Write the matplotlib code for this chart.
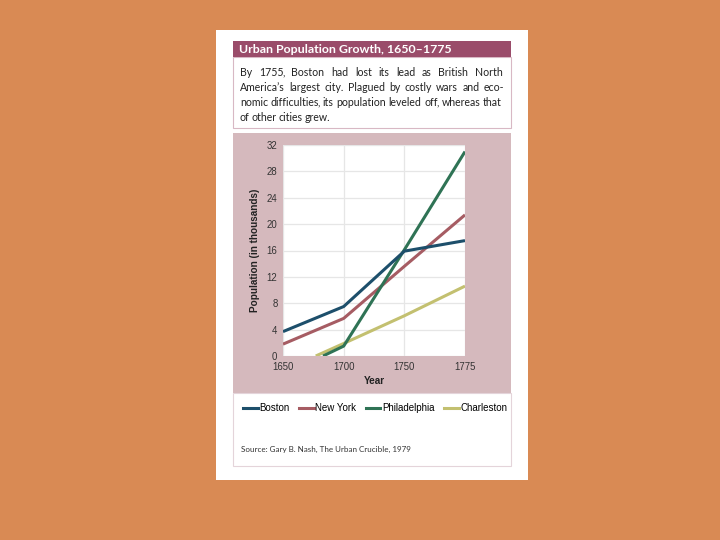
import numpy as np
import matplotlib
matplotlib.use("Agg")
import matplotlib.pyplot as plt
from matplotlib.patches import Rectangle
from matplotlib.lines import Line2D

# data (population in thousands)
tick_years = [1650, 1700, 1750, 1775]
boston_years = [1650, 1700, 1750, 1775]
boston = [3.7, 7.5, 15.9, 17.5]
newyork_years = [1650, 1700, 1750, 1775]
newyork = [1.8, 5.7, 13.6, 21.4]
phila_years = [1683, 1700, 1750, 1775]
phila = [0.0, 1.5, 16.1, 31.0]
charles_years = [1677, 1700, 1750, 1775]
charles = [0.0, 1.9, 6.1, 10.6]
y_ticks = [0, 4, 8, 12, 16, 20, 24, 28, 32]

title = "Urban Population Growth, 1650\u20131775"
body_lines = [
    "By 1755, Boston had lost its lead as British North",
    "America\u2019s largest city. Plagued by costly wars and eco-",
    "nomic difficulties, its population leveled off, whereas that",
    "of other cities grew.",
]
source = "Source: Gary B. Nash, The Urban Crucible, 1979"

c_bg = "#d98a54"
c_bar = "#9a4c6a"
c_panel = "#d5b9bd"
c_border = "#d8b8c4"
colors = {"Boston": "#1d4f6b", "New York": "#a65c63",
          "Philadelphia": "#2f7355", "Charleston": "#c3c070"}

W, H = 720, 540
fig = plt.figure(figsize=(7.2, 5.4), dpi=100)
fig.patch.set_facecolor(c_bg)


def box(x0, y0, x1, y1, **kw):
    # pixel coords from top-left
    r = Rectangle((x0 / W, 1 - y1 / H), (x1 - x0) / W, (y1 - y0) / H,
                  transform=fig.transFigure, zorder=0, **kw)
    fig.add_artist(r)


def fx(x):
    return x / W


def fy(y):
    return 1 - y / H


box(216, 30, 528, 480, facecolor="white", edgecolor="none")
box(233, 57, 511, 128, facecolor="white", edgecolor=c_border, lw=0.8)
box(233, 41, 511, 57, facecolor=c_bar, edgecolor="none")
box(233, 133, 511, 393, facecolor=c_panel, edgecolor="none")
box(233, 393, 511, 466, facecolor="white", edgecolor="#e4d4da", lw=0.8)

fig.text(fx(239), fy(49.5), title, color="white", fontsize=8.9,
         fontweight="bold", family="Lato", va="center", ha="left")

# justified body text, one text per word (trailing commas drawn on their own)
renderer = fig.canvas.get_renderer()
body_font = dict(fontsize=7.6, family="Lato", color="#222222",
                 va="baseline", ha="left")
left, right = 240, 504
for i, line in enumerate(body_lines):
    yy = fy(76.5 + i * 14.8)
    words = line.split(" ")
    pieces = []
    for w in words:
        if w.endswith(","):
            a = fig.text(0, yy, w[:-1], **body_font)
            b = fig.text(0, yy, ",", **body_font)
            pieces.append([a, b])
        else:
            pieces.append([fig.text(0, yy, w, **body_font)])
    widths = [[t.get_window_extent(renderer).width for t in p] for p in pieces]
    total = sum(sum(ws) for ws in widths)
    if i == len(body_lines) - 1:
        gap = 2.0
    else:
        gap = (right - left - total) / (len(words) - 1)
    x = left
    for p, ws in zip(pieces, widths):
        for k, (t, w) in enumerate(zip(p, ws)):
            if k == 1:
                x -= 1.2
            t.set_x(fx(x))
            x += w
        x += gap

ax = fig.add_axes([fx(283), fy(356), (465 - 283) / W, (356 - 145) / H])
ax.set_zorder(5)
ax.set_facecolor("white")
pos = lambda yrs: np.interp(yrs, tick_years, np.arange(len(tick_years)))

ax.plot(pos(charles_years), charles, color=colors["Charleston"], lw=2.2,
        solid_capstyle="butt", label="Charleston")
ax.plot(pos(newyork_years), newyork, color=colors["New York"], lw=2.2,
        solid_capstyle="butt", label="New York")
ax.plot(pos(phila_years), phila, color=colors["Philadelphia"], lw=2.2,
        solid_capstyle="butt", label="Philadelphia")
ax.plot(pos(boston_years), boston, color=colors["Boston"], lw=2.2,
        solid_capstyle="butt", label="Boston")

ax.set_xlim(0, 3)
ax.set_ylim(0, 32)
ax.set_xticks(range(len(tick_years)))
ax.set_xticklabels([str(y) for y in tick_years])
ax.set_yticks(y_ticks)
ax.grid(True, color="#e6e6e6", lw=0.9)
ax.set_axisbelow(True)
for s in ax.spines.values():
    s.set_visible(False)
ax.tick_params(length=0, labelsize=6.9, labelcolor="#333333", pad=4)
for lab in ax.get_xticklabels() + ax.get_yticklabels():
    lab.set_family("Liberation Sans")
ax.set_xlabel("Year", fontsize=7.2, fontweight="bold", family="Liberation Sans",
              color="#222222", labelpad=3)
ax.set_ylabel("Population (in thousands)", fontsize=7.2, fontweight="bold",
              family="Liberation Sans", color="#222222", labelpad=5)

order = ["Boston", "New York", "Philadelphia", "Charleston"]
handles = [Line2D([], [], color=colors[n], lw=2.2) for n in order]
leg = fig.legend(handles, order, loc="center", bbox_to_anchor=(fx(375), fy(408)),
                 ncol=4, frameon=False, handlelength=1.5, handletextpad=0.15,
                 columnspacing=1.0, prop={"family": "Liberation Sans", "size": 7})
leg.set_zorder(6)

fig.text(fx(241), fy(449), source, fontsize=5.8, family="Lato",
         color="#333333", va="center", ha="left")

fig.savefig("out.png", dpi=100, facecolor=fig.get_facecolor())
